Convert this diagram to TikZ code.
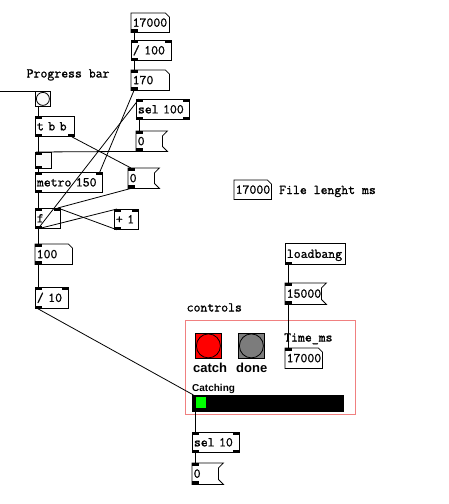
\documentclass[tikz,border=0pt]{standalone}
\usepackage{fontspec}
\usetikzlibrary{calc}
\newfontfamily\pdfont[FakeBold=1.2]{Latin Modern Mono}
\newfontfamily\lblfont{Liberation Sans}
\definecolor{cnvcol}{RGB}{240,128,128}
\definecolor{bangred}{RGB}{255,0,0}
\definecolor{donegray}{RGB}{124,124,124}
\definecolor{knobgreen}{RGB}{0,255,0}
\definecolor{iembg}{RGB}{250,250,250}
\newcommand\pdinL[1]{\fill (#1.north west) rectangle ++(7,3);}
\newcommand\pdinR[1]{\fill ($(#1.north east)+(-7,0)$) rectangle ++(7,3);}
\newcommand\pdoutL[1]{\fill (#1.south west) rectangle ++(7,-3);}
\newcommand\pdoutR[1]{\fill ($(#1.south east)+(-7,0)$) rectangle ++(7,-3);}
\newcommand\pdatom[1]{\draw[boxline] (#1.north west) -- ($(#1.north east)+(-4,0)$) -- ($(#1.north east)+(0,4)$) -- (#1.south east) -- (#1.south west) -- cycle;}
\newcommand\pdmsg[1]{\draw[boxline] (#1.north west) -- ($(#1.north east)+(5,0)$) -- ($(#1.north east)+(0,5)$) -- ($(#1.south east)+(0,-5)$) -- ($(#1.south east)+(5,0)$) -- (#1.south west) -- cycle;}
\begin{document}
\begin{tikzpicture}[x=1pt,y=-1pt,
  boxline/.style={line width=0.8pt},
  conn/.style={line width=0.8pt},
  pdtxt/.style={font=\pdfont\fontsize{13.4pt}{13.4pt}\selectfont, anchor=north west,
    inner xsep=1.5pt, inner ysep=0pt, text height=10.5pt, text depth=2.5pt, align=left},
  obj/.style={pdtxt, draw, line width=0.8pt},
  atom/.style={pdtxt},
  msg/.style={pdtxt},
  lbl/.style={font=\pdfont\fontsize{13.4pt}{13.4pt}\selectfont, anchor=base west, inner sep=0pt},
  iem/.style={draw, line width=0.8pt, inner sep=0pt, anchor=north west},
  iemlbl/.style={font=\lblfont\bfseries\fontsize{13pt}{13pt}\selectfont, anchor=base west, inner sep=0pt}]
\useasboundingbox (0,0) rectangle (449,504);

% ---------- upper chain ----------
\node[atom, text width=35pt, minimum height=19pt] (n17k) at (131,13) {17000};
\pdatom{n17k} \pdoutL{n17k}
\node[obj, text width=37pt, minimum height=20pt] (div100) at (131,40) {/ 100};
\pdinL{div100} \pdinR{div100} \pdoutL{div100}
\node[atom, text width=35pt, minimum height=20pt] (a170) at (131,70) {170};
\pdatom{a170} \pdinL{a170} \pdoutL{a170}
\node[obj, text width=50pt, minimum height=20pt] (sel100) at (136,99) {sel 100};
\pdinL{sel100} \pdinR{sel100} \pdoutL{sel100} \pdoutR{sel100}
\node[msg, text width=23pt, minimum height=20pt] (m0a) at (136,131) {0};
\pdmsg{m0a} \pdinL{m0a} \pdoutL{m0a}

% ---------- progress bar column ----------
\node[lbl] (tprog) at (26.5,77.5) {Progress bar};
\coordinate (offl) at (0,91);
\node[iem, fill=iembg, minimum width=15pt, minimum height=15pt] (bng) at (35,91) {};
\draw[line width=0.8pt] (bng.center) circle (6.5);
\node[obj, text width=36pt, minimum height=20pt] (tbb) at (35,116) {t b b};
\pdinL{tbb} \pdoutL{tbb} \pdoutR{tbb}
\node[iem, fill=iembg, minimum width=16pt, minimum height=16pt] (tgl) at (35,152) {};
\pdinL{tgl} \pdoutL{tgl}
\node[obj, text width=64pt, minimum height=20pt] (metro) at (35,172) {metro 150};
\pdinL{metro} \pdinR{metro} \pdoutL{metro}
\node[msg, text width=23pt, minimum height=20pt] (m0b) at (128,168) {0};
\pdmsg{m0b} \pdinL{m0b} \pdoutL{m0b}
\node[obj, text width=22pt, minimum height=20pt] (f) at (35,208) {f};
\pdinL{f} \pdinR{f} \pdoutL{f}
\node[obj, text width=21pt, minimum height=20pt] (plus1) at (114,209) {+ 1};
\pdinL{plus1} \pdinR{plus1} \pdoutL{plus1}
\node[atom, text width=34pt, minimum height=20pt] (a100) at (35,244) {100};
\pdatom{a100} \pdinL{a100} \pdoutL{a100}
\node[obj, text width=30pt, minimum height=21pt] (div10) at (35,287) {/ 10};
\pdinL{div10} \pdinR{div10} \pdoutL{div10}

% ---------- right side ----------
\node[atom, text width=34pt, minimum height=19pt] (a17kc) at (234,180) {17000};
\pdatom{a17kc}
\node[lbl] (tfile) at (279,194) {File lenght ms};
\node[obj, text width=57pt, minimum height=21pt] (loadbang) at (285,243) {loadbang};
\pdoutL{loadbang}
\node[msg, text width=33pt, minimum height=21pt] (m15000) at (285,283) {15000};
\pdmsg{m15000} \pdinL{m15000} \pdoutL{m15000}

% ---------- controls canvas ----------
\node[lbl] (tctrl) at (186.5,311.5) {controls};
\node[draw=cnvcol, line width=0.8pt, inner sep=0pt, anchor=north west, minimum width=170pt, minimum height=94pt] (cnv) at (185,320) {};
\node[iem, fill=bangred, minimum width=26pt, minimum height=25pt] (catch) at (195,333) {};
\draw[line width=0.8pt] (catch.center) circle (12);
\node[iem, fill=donegray, minimum width=26pt, minimum height=25pt] (done) at (238,333) {};
\draw[line width=0.8pt] (done.center) circle (12);
\node[iemlbl] (tcatch) at (193,372) {catch};
\node[iemlbl] (tdone) at (236,372) {done};
\node[lbl] (ttime) at (284,341.5) {Time\_ms};
\node[atom, text width=34pt, minimum height=20pt] (a17kb) at (285,348) {17000};
\pdatom{a17kb} \pdinL{a17kb}
\node[iemlbl, font=\lblfont\bfseries\fontsize{10pt}{10pt}\selectfont] (tcatching) at (192,391) {Catching};
\node[iem, fill=black, minimum width=151pt, minimum height=16pt] (hsl) at (192,395) {};
\fill[knobgreen] ($(hsl.north west)+(3.5,2)$) rectangle ++(10,11);

% ---------- bottom ----------
\node[obj, text width=44pt, minimum height=20pt] (sel10) at (192,432) {sel 10};
\pdinL{sel10} \pdinR{sel10} \pdoutL{sel10} \pdoutR{sel10}
\node[msg, text width=23pt, minimum height=21pt] (m0c) at (192,463) {0};
\pdmsg{m0c} \pdinL{m0c} \pdoutL{m0c}

% ---------- connections ----------
\draw[conn] ($(n17k.south west)+(3,0)$) -- ($(div100.north west)+(3,0)$);
\draw[conn] ($(div100.south west)+(3,0)$) -- ($(a170.north west)+(3,0)$);
\draw[conn] ($(a170.south west)+(3,0)$) -- ($(metro.north east)+(-3,0)$);
\draw[conn] ($(f.south west)+(3,0)$) -- ($(sel100.north west)+(3,0)$);
\draw[conn] ($(sel100.south west)+(3,0)$) -- ($(m0a.north west)+(3,0)$);
\draw[conn] ($(m0a.south west)+(3,0)$) -- ($(tgl.north west)+(1,0)$);
\draw[conn] (offl) -- (bng.north west);
\draw[conn] ($(bng.south west)+(3,0)$) -- ($(tbb.north west)+(3,0)$);
\draw[conn] ($(tbb.south west)+(3,0)$) -- ($(tgl.north west)+(3,0)$);
\draw[conn] ($(tbb.south east)+(-3,0)$) -- ($(m0b.north west)+(3,0)$);
\draw[conn] ($(tgl.south west)+(3,0)$) -- ($(metro.north west)+(3,0)$);
\draw[conn] ($(metro.south west)+(3,0)$) -- ($(f.north west)+(3,0)$);
\draw[conn] ($(m0b.south west)+(3,0)$) -- ($(f.north east)+(-3,0)$);
\draw[conn] ($(f.south west)+(3,0)$) -- ($(plus1.north west)+(3,0)$);
\draw[conn] ($(plus1.south west)+(3,0)$) -- ($(f.north east)+(-3,0)$);
\draw[conn] ($(f.south west)+(3,0)$) -- ($(a100.north west)+(3,0)$);
\draw[conn] ($(a100.south west)+(3,0)$) -- ($(div10.north west)+(3,0)$);
\draw[conn] ($(div10.south west)+(3,0)$) -- ($(hsl.north west)+(1.5,0)$);
\draw[conn] ($(hsl.south west)+(3,0)$) -- ($(sel10.north west)+(3,0)$);
\draw[conn] ($(sel10.south west)+(3,0)$) -- ($(m0c.north west)+(3,0)$);
\draw[conn] ($(loadbang.south west)+(3,0)$) -- ($(m15000.north west)+(3,0)$);
\draw[conn] ($(m15000.south west)+(3,0)$) -- ($(a17kb.north west)+(3,0)$);
\end{tikzpicture}
\end{document}
